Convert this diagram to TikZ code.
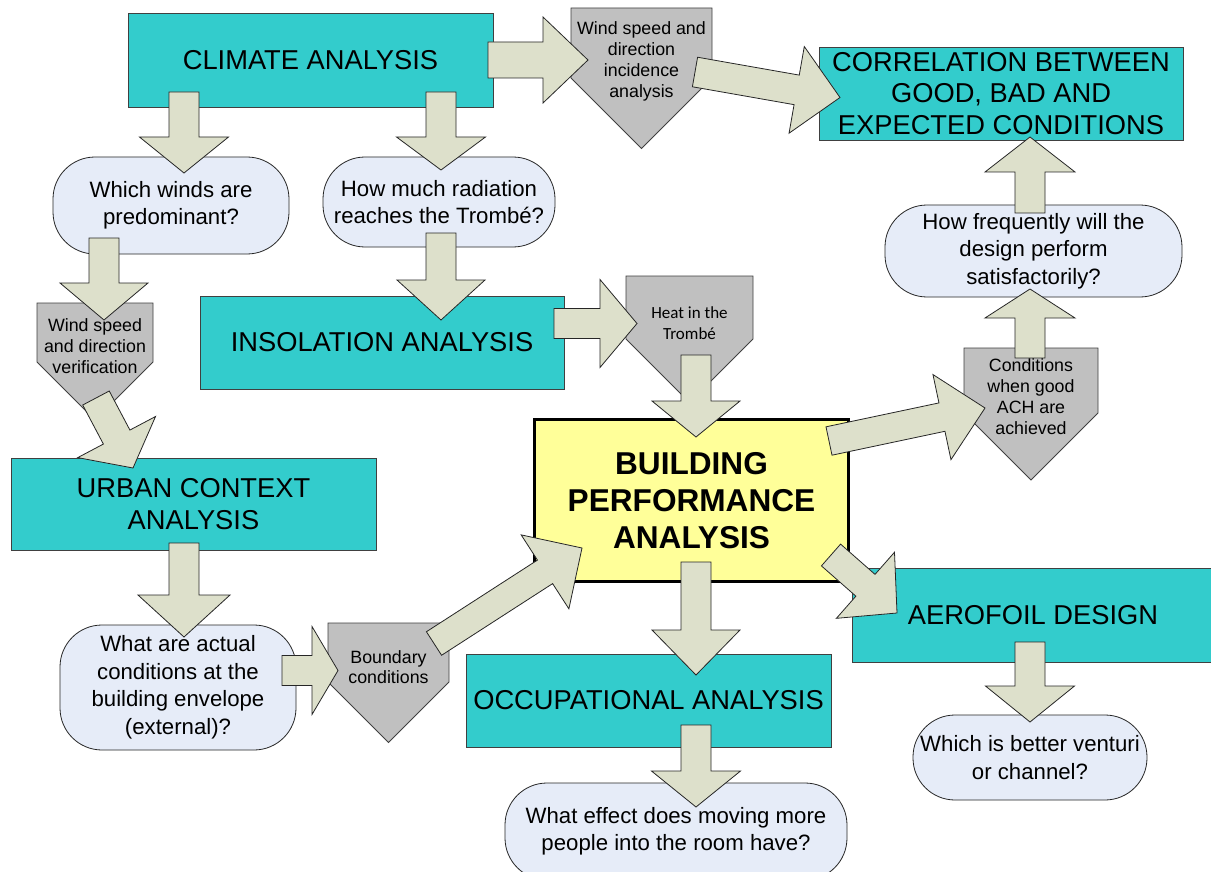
\documentclass[tikz,border=0pt]{standalone}
\usepackage{fontspec}
\setmainfont{Liberation Sans}
\newfontfamily\calfont{Carlito}
\usetikzlibrary{calc}
\definecolor{tealfill}{HTML}{33CCCC}
\definecolor{qfill}{HTML}{E6ECF8}
\definecolor{pgray}{HTML}{C0C0C0}
\definecolor{afill}{HTML}{DDE0CB}
\definecolor{yel}{HTML}{FFFF99}
\tikzset{
  tbox/.style={draw=black!75, line width=0.9pt, fill=tealfill, align=center, inner sep=0pt,
    font=\fontsize{27.3}{31.5}\selectfont},
  qbox/.style={draw=black!85, line width=0.8pt, fill=qfill, rounded corners=42pt, align=center,
    inner sep=0pt, font=\fontsize{22.2}{27.5}\selectfont},
  ptext/.style={align=center, inner sep=0pt, font=\fontsize{17.8}{21}\selectfont},
  pent/.style={draw=black!75, line width=0.8pt, fill=pgray, line join=miter},
  barr/.style={draw=black!85, line width=0.8pt, fill=afill, line join=miter},
}
% block arrow: tail, tip, shaft half width, head half width, head length
\newcommand\barrow[5]{%
  \coordinate (bac) at ($(#2)!#5!(#1)$);
  \draw[barr] ($(#1)!#3!90:(#2)$) -- ($(bac)!#3!90:(#2)$) -- ($(bac)!#4!90:(#2)$) -- (#2)
    -- ($(bac)!#4!-90:(#2)$) -- ($(bac)!#3!-90:(#2)$) -- ($(#1)!#3!-90:(#2)$) -- cycle;}
\begin{document}
\begin{tikzpicture}[x=1pt,y=-1pt]
\useasboundingbox (0,0) rectangle (1211,872);
\clip (0,0) rectangle (1211,872);
\fill[white] (0,0) rectangle (1211,872);

% teal boxes
\node[tbox, minimum width=365pt, minimum height=94pt] (climate) at (310.5,60) {CLIMATE ANALYSIS};
\node[tbox, minimum width=364pt, minimum height=93pt] (corr) at (1001,93.5) {CORRELATION BETWEEN\\GOOD, BAD AND\\EXPECTED CONDITIONS};
\node[tbox, minimum width=364pt, minimum height=93pt] (insol) at (382,342.5) {INSOLATION ANALYSIS};
\node[tbox, minimum width=365pt, minimum height=92pt] (urban) at (193.5,504) {URBAN CONTEXT\\ANALYSIS};
\node[tbox, minimum width=365pt, minimum height=93pt] (occ) at (648.5,700.5) {OCCUPATIONAL ANALYSIS};
\node[tbox, minimum width=362pt, minimum height=94pt] (aero) at (1033,615) {AEROFOIL DESIGN};

% building performance
\node[draw=black, line width=3.5pt, fill=yel, minimum width=314pt, minimum height=162pt, inner sep=0pt,
  align=center, font=\bfseries\fontsize{31.6}{37}\selectfont] (bpa) at (691.5,500.5) {BUILDING\\PERFORMANCE\\ANALYSIS};

% question nodes
\node[qbox, minimum width=236pt, minimum height=97pt] (q1) at (171,205.5) {Which winds are\\predominant?};
\node[qbox, minimum width=232pt, minimum height=90pt] (q2) at (439,202) {How much radiation\\reaches the Tromb\'e?};
\node[qbox, minimum width=297pt, minimum height=92pt] (q3) at (1033.5,251) {How frequently will the\\design perform\\satisfactorily?};
\node[qbox, minimum width=236pt, minimum height=125pt] (q4) at (178,687.5) {What are actual\\conditions at the\\building envelope\\(external)?};
\node[qbox, minimum width=234pt, minimum height=85pt] (q5) at (1030,757.5) {Which is better venturi\\or channel?};
\node[qbox, minimum width=342pt, minimum height=97pt] (q6) at (676,831.5) {What effect does moving more\\people into the room have?};

% pentagons
\draw[pent] (571,8) -- (712,8) -- (712,78) -- (641.5,148.5) -- (571,78) -- cycle;
\node[ptext] (p1) at (641.5,61) {Wind speed and\\direction\\incidence\\analysis};
\draw[pent] (37,303) -- (153,303) -- (153,362) -- (95,420) -- (37,362) -- cycle;
\node[ptext] (p2) at (95,346) {Wind speed\\and direction\\verification};
\draw[pent] (626,276) -- (753,276) -- (753,339) -- (689.5,402.5) -- (626,339) -- cycle;
\node[ptext, font=\calfont\fontsize{17}{20.5}\selectfont] (p3) at (689.5,323) {Heat in the\\Tromb\'e};
\draw[pent] (328,623) -- (449,623) -- (449,682) -- (388.5,742.5) -- (328,682) -- cycle;
\node[ptext, font=\fontsize{17.8}{20.5}\selectfont] (p4) at (388.5,667) {Boundary\\conditions};
\draw[pent] (964,348) -- (1098,348) -- (1098,413) -- (1031,480) -- (964,413) -- cycle;
\node[ptext] (p5) at (1031,396.5) {Conditions\\when good\\ACH are\\achieved};

% block arrows
\coordinate (a1s) at (488,60);   \coordinate (a1e) at (588,60);
\barrow{a1s}{a1e}{18pt}{43pt}{45pt}
\coordinate (a2s) at (695,72);   \coordinate (a2e) at (840,97.5);
\barrow{a2s}{a2e}{15pt}{44pt}{44pt}
\coordinate (a3s) at (184,92);   \coordinate (a3e) at (184,173);
\barrow{a3s}{a3e}{15pt}{44.5pt}{36pt}
\coordinate (a4s) at (441,92);   \coordinate (a4e) at (441,170);
\barrow{a4s}{a4e}{15pt}{44.5pt}{33pt}
\coordinate (a5s) at (104,238);  \coordinate (a5e) at (104,320);
\barrow{a5s}{a5e}{15pt}{44pt}{37pt}
\coordinate (a6s) at (96,398);   \coordinate (a6e) at (133,468);
\barrow{a6s}{a6e}{15pt}{44pt}{35pt}
\coordinate (a7s) at (441,233);  \coordinate (a7e) at (441,320);
\barrow{a7s}{a7e}{15pt}{44pt}{40pt}
\coordinate (a8s) at (554,323.5); \coordinate (a8e) at (637,323.5);
\barrow{a8s}{a8e}{15pt}{44pt}{37pt}
\coordinate (a9s) at (696,355);  \coordinate (a9e) at (696,437);
\barrow{a9s}{a9e}{15pt}{44pt}{36pt}
\coordinate (a10s) at (829,441); \coordinate (a10e) at (985,408);
\barrow{a10s}{a10e}{14.5pt}{43.5pt}{44pt}
\coordinate (a11s) at (1030,358); \coordinate (a11e) at (1030,289);
\barrow{a11s}{a11e}{15pt}{45pt}{29pt}
\coordinate (a12s) at (1030,213); \coordinate (a12e) at (1030,137);
\barrow{a12s}{a12e}{15pt}{45pt}{35pt}
\coordinate (a13s) at (184,543); \coordinate (a13e) at (184,637);
\barrow{a13s}{a13e}{15pt}{46pt}{42pt}
\coordinate (a14s) at (282,670.5); \coordinate (a14e) at (338,670.5);
\barrow{a14s}{a14e}{15pt}{44pt}{26pt}
\coordinate (a15s) at (434,643.5); \coordinate (a15e) at (582,548);
\barrow{a15s}{a15e}{14pt}{44pt}{44pt}
\coordinate (a16s) at (696,562); \coordinate (a16e) at (696,675);
\barrow{a16s}{a16e}{15pt}{44pt}{45pt}
\coordinate (a17s) at (831,555); \coordinate (a17e) at (897,613);
\barrow{a17s}{a17e}{14.5pt}{44pt}{42pt}
\coordinate (a18s) at (1030,642); \coordinate (a18e) at (1030,722);
\barrow{a18s}{a18e}{15pt}{44.5pt}{36pt}
\coordinate (a19s) at (696,725); \coordinate (a19e) at (696,807);
\barrow{a19s}{a19e}{15pt}{44.5pt}{36pt}
\end{tikzpicture}
\end{document}
